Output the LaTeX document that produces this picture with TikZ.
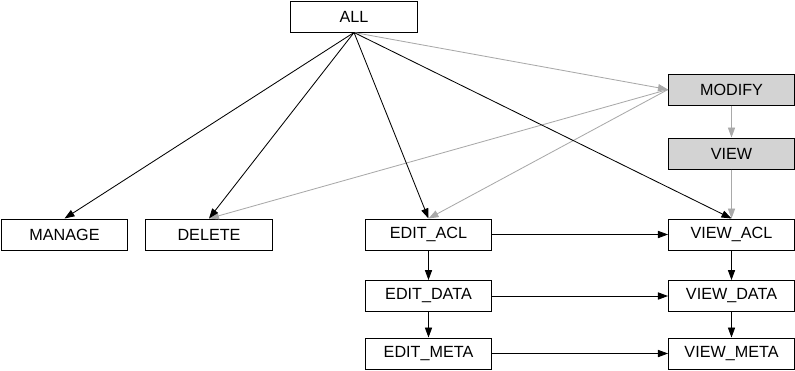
\documentclass[tikz,border=0pt]{standalone}
\usepackage{fontspec}
\setmainfont{Liberation Sans}
\usetikzlibrary{arrows.meta}
\definecolor{G0}{HTML}{D3D3D3}
\definecolor{G1}{HTML}{A9A9A9}

\begin{document}
\begin{tikzpicture}[x=0.025cm, y=-0.025cm,
  perm/.style={draw, line width=0.7pt, minimum width=3.15cm, minimum height=0.775cm, text centered, inner sep=0pt, font=\fontsize{11.5}{13}\selectfont},
  grp/.style={perm, fill=G0},
  dep/.style={line width=0.6pt, -{Triangle[length=0.25cm, width=0.18cm]}},
  inh/.style={dep, draw=G1, -{Triangle[length=0.25cm, width=0.18cm, fill=G1]}}]%
\useasboundingbox (0,0) rectangle (795,370);%
\node[perm] (all) at (354,16.5) {ALL};%
\node[grp] (modify) at (731.5,89.5) {MODIFY};%
\node[grp] (view) at (731.5,153.5) {VIEW};%
\node[perm] (manage) at (64.5,234.5) {MANAGE};%
\node[perm] (delete) at (209,234.5) {DELETE};%
\node[perm] (editacl) at (428.5,234.5) {EDIT\_ACL};%
\node[perm] (viewacl) at (731.5,234.5) {VIEW\_ACL};%
\node[perm] (editdata) at (428.5,296) {EDIT\_DATA};%
\node[perm] (viewdata) at (731.5,296) {VIEW\_DATA};%
\node[perm] (editmeta) at (428.5,353.5) {EDIT\_META};%
\node[perm] (viewmeta) at (731.5,353.5) {VIEW\_META};%
% grey edges come from the grouped permissions
\draw[inh] (all.south) -- (modify.west);%
\draw[inh] (modify.west) -- (delete.north);%
\draw[inh] (modify.west) -- (editacl.north);%
\draw[inh] (modify) -- (view);%
\draw[inh] (view) -- (viewacl);%
% black edges
\draw[dep] (all.south) -- (manage.north);%
\draw[dep] (all.south) -- (delete.north);%
\draw[dep] (all.south) -- (editacl.north);%
\draw[dep] (all.south) -- (viewacl.north);%
\draw[dep] (editacl) -- (viewacl);%
\draw[dep] (editdata) -- (viewdata);%
\draw[dep] (editmeta) -- (viewmeta);%
\draw[dep] (editacl) -- (editdata);%
\draw[dep] (editdata) -- (editmeta);%
\draw[dep] (viewacl) -- (viewdata);%
\draw[dep] (viewdata) -- (viewmeta);%
\end{tikzpicture}
\end{document}
